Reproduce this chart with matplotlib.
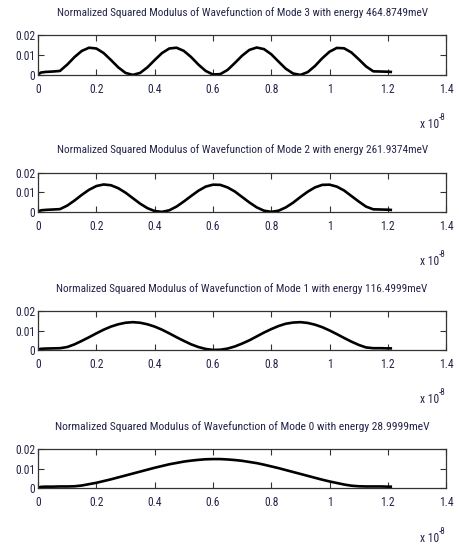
import matplotlib.pyplot as plt
from matplotlib import font_manager
import numpy as np

# position along the structure, in units of 1e-8 m
x_pos = [0, 0.01, 0.025, 0.05, 0.075, 0.1, 0.125, 0.15, 0.175, 0.2,
         0.225, 0.25, 0.275, 0.3, 0.325, 0.35, 0.375, 0.4, 0.425, 0.45,
         0.475, 0.5, 0.525, 0.55, 0.575, 0.6, 0.625, 0.65, 0.675, 0.7,
         0.725, 0.75, 0.775, 0.8, 0.825, 0.85, 0.875, 0.9, 0.925, 0.95,
         0.975, 1.0, 1.025, 1.05, 1.075, 1.1, 1.125, 1.15, 1.175, 1.2, 1.21]

mode3 = [0.0002, 0.0012, 0.0015, 0.0017, 0.0020, 0.0052, 0.0090, 0.0121, 0.0137, 0.0133,
         0.0110, 0.0075, 0.0038, 0.0010, 0.0000, 0.0010, 0.0038, 0.0075, 0.0110, 0.0133,
         0.0137, 0.0121, 0.0090, 0.0052, 0.0020, 0.0002, 0.0004, 0.0025, 0.0060, 0.0097,
         0.0126, 0.0138, 0.0130, 0.0104, 0.0067, 0.0031, 0.0007, 0.0000, 0.0014, 0.0045,
         0.0084, 0.0117, 0.0136, 0.0134, 0.0113, 0.0079, 0.0043, 0.0018, 0.0017, 0.0016, 0.0015]

mode2 = [0.0002, 0.0008, 0.0010, 0.0012, 0.0014, 0.0032, 0.0058, 0.0087, 0.0113, 0.0132,
         0.0140, 0.0136, 0.0121, 0.0098, 0.0070, 0.0042, 0.0019, 0.0004, 0.0000, 0.0008,
         0.0027, 0.0053, 0.0081, 0.0108, 0.0129, 0.0139, 0.0138, 0.0125, 0.0104, 0.0076,
         0.0048, 0.0023, 0.0006, 0.0000, 0.0006, 0.0023, 0.0047, 0.0076, 0.0103, 0.0125,
         0.0138, 0.0139, 0.0129, 0.0109, 0.0081, 0.0053, 0.0027, 0.0013, 0.0012, 0.0011, 0.0010]

mode1 = [0.0002, 0.0006, 0.0007, 0.0008, 0.0009, 0.0015, 0.0029, 0.0047, 0.0066, 0.0086,
         0.0105, 0.0121, 0.0133, 0.0141, 0.0144, 0.0141, 0.0133, 0.0121, 0.0105, 0.0086,
         0.0066, 0.0047, 0.0029, 0.0015, 0.0005, 0.0000, 0.0001, 0.0007, 0.0018, 0.0033,
         0.0050, 0.0070, 0.0090, 0.0108, 0.0124, 0.0136, 0.0142, 0.0144, 0.0140, 0.0131,
         0.0118, 0.0101, 0.0082, 0.0062, 0.0043, 0.0026, 0.0013, 0.0009, 0.0009, 0.0008, 0.0008]

mode0 = [0.0002, 0.0006, 0.0007, 0.0007, 0.0008, 0.0008, 0.0009, 0.0013, 0.0020, 0.0027,
         0.0036, 0.0045, 0.0055, 0.0065, 0.0075, 0.0085, 0.0095, 0.0105, 0.0114, 0.0123,
         0.0130, 0.0137, 0.0142, 0.0146, 0.0149, 0.0150, 0.0150, 0.0148, 0.0145, 0.0141,
         0.0135, 0.0129, 0.0121, 0.0112, 0.0103, 0.0093, 0.0083, 0.0073, 0.0063, 0.0053,
         0.0043, 0.0034, 0.0026, 0.0018, 0.0012, 0.0009, 0.0008, 0.0008, 0.0008, 0.0007, 0.0007]

mode_ids = [3, 2, 1, 0]
energies = ['464.8749', '261.9374', '116.4999', '28.9999']
x_ticks = [0, 0.2, 0.4, 0.6, 0.8, 1.0, 1.2, 1.4]
x_labels = ['0', '0.2', '0.4', '0.6', '0.8', '1', '1.2', '1.4']
y_ticks = [0, 0.01, 0.02]
y_labels = ['0', '0.01', '0.02']

text_col = '#24244a'


def pick_narrow_font():
    # the reference uses a squeezed arial-like face; take a narrow one if any is installed
    prefs = ['Liberation Sans Narrow', 'Roboto Condensed', 'Noto Sans Condensed',
             'Open Sans Condensed', 'DejaVu Sans Condensed', 'Noto Sans ExtraCondensed']
    faces = [f for f in font_manager.fontManager.ttflist
             if f.style == 'normal' and f.weight in (400, 'normal', 'regular')]
    for name in prefs:
        for f in faces:
            if f.name == name:
                return font_manager.FontProperties(fname=f.fname)
    for f in faces:
        if f.stretch in ('condensed', 'semi-condensed', 'extra-condensed') \
                or 'Condensed' in f.name or 'Narrow' in f.name:
            return font_manager.FontProperties(fname=f.fname)
    return font_manager.FontProperties(family='Liberation Sans')


def fit_size(txt, target_px, renderer):
    # scale the font so the text is as wide as in the reference
    size = txt.get_fontsize()
    w = txt.get_window_extent(renderer).width
    txt.set_fontsize(size * target_px / w)


font = pick_narrow_font()

fig = plt.figure(figsize=(4.59, 5.59), dpi=100)
renderer = fig.canvas.get_renderer()

# axes boxes in figure fractions (left, bottom, width, height)
boxes = [(0.083, 0.866, 0.889, 0.071),
         (0.083, 0.621, 0.889, 0.070),
         (0.083, 0.374, 0.889, 0.069),
         (0.083, 0.127, 0.889, 0.069)]

# size of the tick labels from the width of "0.02"
probe = fig.text(0, 0, '0.02', fontproperties=font, fontsize=10)
fit_size(probe, 20, renderer)
tick_size = probe.get_fontsize()
probe.remove()

for box, mode, energy, psi2 in zip(boxes, mode_ids, energies, [mode3, mode2, mode1, mode0]):
    ax = fig.add_axes(box)
    ax.plot(x_pos, psi2, color='black', lw=1.9)
    ax.set_xlim(0, 1.4)
    ax.set_ylim(0, 0.02)
    ax.set_xticks(x_ticks)
    ax.set_xticklabels(x_labels, fontproperties=font, fontsize=tick_size)
    ax.set_yticks(y_ticks)
    ax.set_yticklabels(y_labels, fontproperties=font, fontsize=tick_size)
    ax.tick_params(direction='in', top=True, right=True, length=4, width=0.8,
                   color='#333333', labelcolor=text_col)
    ax.tick_params(axis='x', pad=6)
    ax.tick_params(axis='y', pad=2)
    for sp in ax.spines.values():
        sp.set_color('#333333')
        sp.set_linewidth(0.9)
    t = ax.set_title('Normalized Squared Modulus of Wavefunction of Mode %d with energy %smeV'
                     % (mode, energy), fontproperties=font, fontsize=10,
                     color=text_col, pad=14)
    fit_size(t, 372, renderer)
    # matlab style exponent under the right end of the axis
    ax.annotate('x 10', xy=(1, 0), xycoords='axes fraction', xytext=(-7, -50),
                textcoords='offset pixels', ha='right', va='center',
                fontproperties=font, fontsize=tick_size, color=text_col)
    ax.annotate('-8', xy=(1, 0), xycoords='axes fraction', xytext=(-7, -43),
                textcoords='offset pixels', ha='left', va='center',
                fontproperties=font, fontsize=tick_size * 0.8, color=text_col)

fig.savefig('out.png', dpi=100)
